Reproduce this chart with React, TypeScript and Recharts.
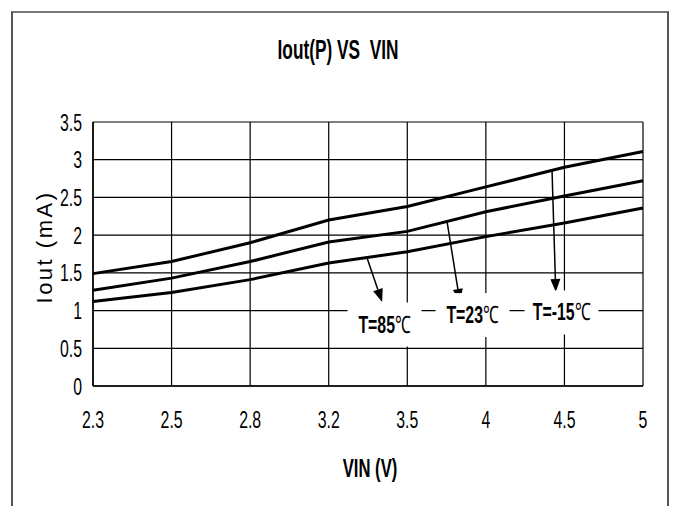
import React from 'react';
import {
  LineChart, Line, XAxis, YAxis, CartesianGrid, ReferenceLine, ReferenceDot,
} from 'recharts';

const vinLabels = ['2.3', '2.5', '2.8', '3.2', '3.5', '4', '4.5', '5'];
const tMinus15 = [1.49, 1.65, 1.9, 2.2, 2.38, 2.64, 2.9, 3.11];
const t23 = [1.27, 1.43, 1.65, 1.91, 2.05, 2.31, 2.52, 2.72];
const t85 = [1.12, 1.24, 1.41, 1.63, 1.78, 1.98, 2.16, 2.36];
const yTicks = [0, 0.5, 1, 1.5, 2, 2.5, 3, 3.5];

// annotation anchors in data units (x = category index)
const tags = [
  { text: 'T=85', from: [3.487, 1.70], to: [3.68, 1.114], box: [3.71, 0.815] },
  { text: 'T=23', from: [4.506, 2.18], to: [4.67, 1.114], box: [4.83, 0.94] },
  { text: 'T=-15', from: [5.842, 2.86], to: [5.89, 1.246], box: [5.963, 0.975] },
];

const data = vinLabels.map((v, i) => ({ i, vin: v, m15: tMinus15[i], t23: t23[i], t85: t85[i] }));

const FONT = "'Liberation Sans', Arial, sans-serif";

const XTick = ({ x, y, payload }: any) => (
  <text transform={`translate(${x},${y + 34}) scale(0.66,1)`} textAnchor="middle"
    fontFamily={FONT} fontSize={24} fill="#000">
    {vinLabels[payload.value]}
  </text>
);

const YTick = ({ y, payload }: any) => (
  <text transform={`translate(82,${y + 8.5}) scale(0.66,1)`} textAnchor="end"
    fontFamily={FONT} fontSize={24} fill="#000">
    {payload.value}
  </text>
);

const Arrow = ({ x1, y1, x2, y2 }: any) => {
  const a = Math.atan2(y2 - y1, x2 - x1);
  const len = 13, w = 5;
  const bx = x2 - len * Math.cos(a), by = y2 - len * Math.sin(a);
  const px = -Math.sin(a) * w, py = Math.cos(a) * w;
  return (
    <g>
      <line x1={x1} y1={y1} x2={bx} y2={by} stroke="#000" strokeWidth={1.5} />
      <polygon points={`${x2},${y2} ${bx + px},${by + py} ${bx - px},${by - py}`} fill="#000" />
    </g>
  );
};

const TagBox = ({ cx, cy, text }: any) => (
  <g>
    <rect x={cx - 37} y={cy - 22} width={74} height={44} fill="#fff" />
    <text transform={`translate(${cx},${cy + 8}) scale(0.66,1)`} textAnchor="middle"
      fontFamily={FONT} fontSize={24} fontWeight="bold" fill="#000">
      {text}<tspan fontWeight="normal">℃</tspan>
    </text>
  </g>
);

export default function App() {
  return (
    <div style={{ position: 'absolute', left: 0, top: 0, width: 674, height: 506, background: '#fff', overflow: 'hidden' }}>
      <div style={{
        position: 'absolute', left: 11, top: 11, width: 654, height: 520,
        borderTop: '2px solid #777', borderLeft: '2px solid #555', borderRight: '2px solid #555',
      }} />
      <div style={{
        position: 'absolute', left: 338, top: 50, transform: 'translate(-50%,-50%) scaleX(0.64)',
        fontFamily: FONT, fontSize: 27, fontWeight: 'bold', whiteSpace: 'pre', lineHeight: 1,
      }}>Iout(P) VS  VIN</div>
      <div style={{
        position: 'absolute', left: 45, top: 247, transform: 'translate(-50%,-50%) rotate(-90deg)',
        fontFamily: FONT, fontSize: 22, letterSpacing: 2.5, whiteSpace: 'pre', lineHeight: 1,
      }}>Iout (mA)</div>
      <div style={{
        position: 'absolute', left: 370, top: 468, transform: 'translate(-50%,-50%) scaleX(0.64)',
        fontFamily: FONT, fontSize: 26, fontWeight: 'bold', whiteSpace: 'pre', lineHeight: 1,
      }}>VIN (V)</div>
      <div style={{ position: 'absolute', left: 0, top: 0 }}>
        <LineChart width={674} height={506} data={data} margin={{ top: 122, right: 31, bottom: 80, left: 53 }}>
          <CartesianGrid stroke="#000" strokeWidth={1.2} />
          <XAxis dataKey="i" type="number" domain={[0, 7]} ticks={[0, 1, 2, 3, 4, 5, 6, 7]}
            height={40} axisLine={{ stroke: '#000', strokeWidth: 1.5 }} tickLine={false} tick={<XTick />} />
          <YAxis domain={[0, 3.5]} ticks={yTicks} width={40}
            axisLine={{ stroke: '#000', strokeWidth: 1.5 }} tickLine={false} tick={<YTick />} />
          <Line dataKey="m15" stroke="#000" strokeWidth={3} dot={false} isAnimationActive={false} />
          <Line dataKey="t23" stroke="#000" strokeWidth={3} dot={false} isAnimationActive={false} />
          <Line dataKey="t85" stroke="#000" strokeWidth={3} dot={false} isAnimationActive={false} />
          {tags.map(t => (
            <ReferenceDot key={'b' + t.text} x={t.box[0]} y={t.box[1]} r={1}
              shape={(p: any) => <TagBox {...p} text={t.text} />} />
          ))}
          {tags.map(t => (
            <ReferenceLine key={'a' + t.text}
              segment={[{ x: t.from[0], y: t.from[1] }, { x: t.to[0], y: t.to[1] }]}
              shape={(p: any) => <Arrow {...p} />} />
          ))}
        </LineChart>
      </div>
    </div>
  );
}
